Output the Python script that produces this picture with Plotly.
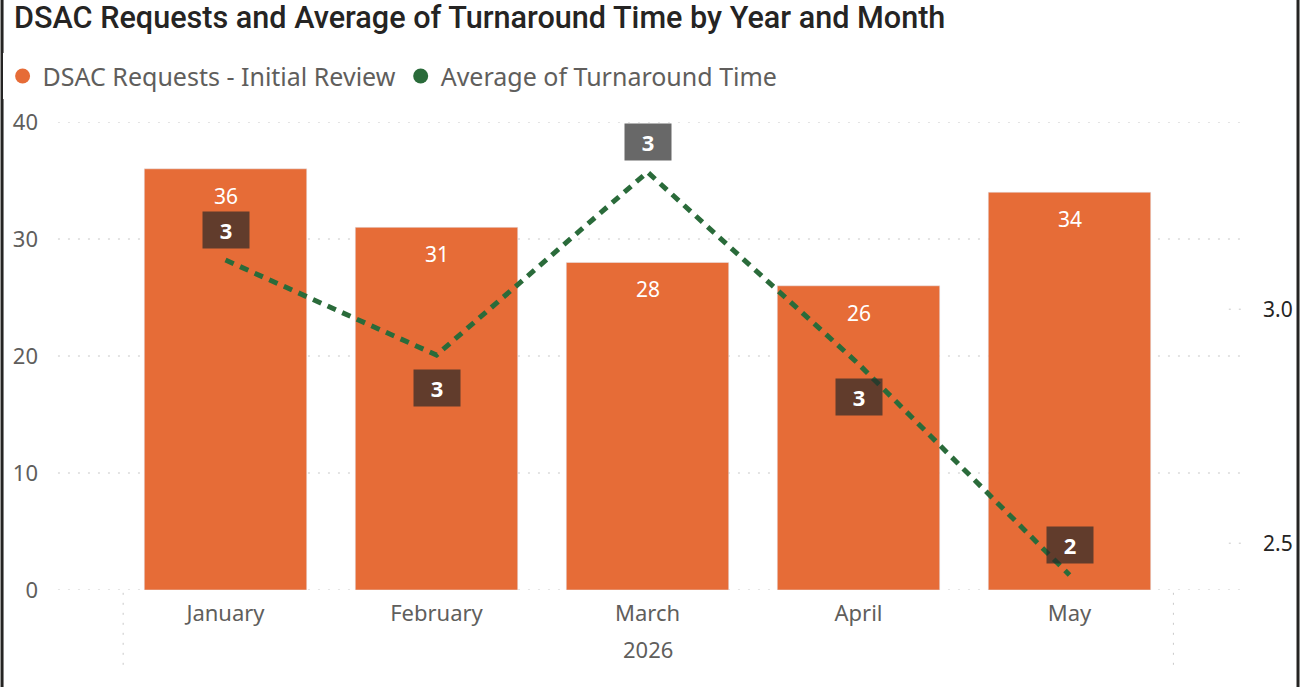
import plotly.graph_objects as go

# data
months = ["January", "February", "March", "April", "May"]
year_label = "2026"
requests = [36, 31, 28, 26, 34]
turnaround = [3.105, 2.902, 3.293, 2.883, 2.432]
label_pos = ["above", "below", "above", "below", "above"]
left_ticks = [0, 10, 20, 30, 40]
right_ticks = [2.5, 3.0]

orange = "#E66C37"
green = "#2A6B3A"
grey_txt = "#605E5C"
font = "Segoe UI, Noto Sans, sans-serif"

fig = go.Figure()
fig.add_trace(go.Bar(x=months, y=requests, marker_color=orange, width=0.77,
                     showlegend=False, hoverinfo="skip"))
fig.add_trace(go.Scatter(x=months, y=turnaround, yaxis="y2", mode="lines",
                         line=dict(color=green, width=5, dash="9px,7px"),
                         showlegend=False, hoverinfo="skip"))
# legend entries (circles like power bi)
fig.add_trace(go.Scatter(x=[None], y=[None], mode="markers", name="DSAC Requests - Initial Review",
                         marker=dict(color=orange, size=15)))
fig.add_trace(go.Scatter(x=[None], y=[None], mode="markers", name="Average of Turnaround Time",
                         marker=dict(color=green, size=15)))

ann = []
for m, v in zip(months, requests):
    ann.append(dict(x=m, y=v, xref="x", yref="y", text=str(v), showarrow=False,
                    yshift=-27, font=dict(color="white", size=21, family=font)))
for m, v, p in zip(months, turnaround, label_pos):
    ann.append(dict(x=m, y=v, xref="x", yref="y2", text="<b>%d</b>" % round(v),
                    showarrow=False, yshift=30 if p == "above" else -33,
                    bgcolor="rgba(40,40,40,0.7)", borderpad=5, width=36, height=26,
                    font=dict(color="white", size=22, family=font)))
ann.append(dict(x=0.5, y=-0.125, xref="paper", yref="paper", text=year_label, showarrow=False,
                yanchor="middle", font=dict(color=grey_txt, size=22, family=font)))

shapes = []
for t in left_ticks:
    shapes.append(dict(type="line", xref="paper", yref="y", x0=-0.0588, x1=1.0616, y0=t, y1=t,
                       line=dict(color="#C8C8C8", width=1, dash="2px,8px"), layer="below"))
for t in right_ticks:
    shapes.append(dict(type="line", xref="paper", yref="y2", x0=1.051, x1=1.063, y0=t, y1=t,
                       line=dict(color="#C8C8C8", width=1, dash="2px,8px"), layer="below"))
for xv in [0.003, 0.9985]:
    shapes.append(dict(type="line", xref="paper", yref="paper", x0=xv, x1=xv, y0=-0.006, y1=-0.167,
                       line=dict(color="#C8C8C8", width=1, dash="2px,8px")))
# frame edges
for xv in [-0.1118, 1.1166]:
    shapes.append(dict(type="line", xref="paper", yref="paper", x0=xv, x1=xv, y0=-0.21, y1=1.27,
                       line=dict(color="#252423", width=3)))

fig.update_layout(
    width=1301, height=687,
    margin=dict(l=120, r=126, t=122, b=97, autoexpand=False),
    paper_bgcolor="white", plot_bgcolor="white",
    title=dict(text="DSAC Requests and Average of Turnaround Time by Year and Month",
               x=0.0108, xanchor="left", y=0.975, yanchor="middle",
               font=dict(family="Roboto", size=30.6, color="#252423", weight=500)),
    legend=dict(orientation="h", xref="container", yref="container", x=0.002, y=0.889,
                xanchor="left", yanchor="middle", itemwidth=30,
                font=dict(family=font, size=25, color=grey_txt), tracegroupgap=0),
    xaxis=dict(showgrid=False, zeroline=False, showline=False, ticks="",
               tickfont=dict(family=font, size=22, color=grey_txt), ticklabelstandoff=8),
    yaxis=dict(range=[0, 40], tickvals=left_ticks, showgrid=False, zeroline=False,
               tickfont=dict(family=font, size=22, color=grey_txt), ticklabelstandoff=81),
    yaxis2=dict(range=[2.4, 3.4], tickvals=right_ticks, ticktext=["2.5", "3.0"],
                overlaying="y", side="right", showgrid=False, zeroline=False,
                tickfont=dict(family=font, size=21, color="#252423"), ticklabelstandoff=87),
    annotations=ann, shapes=shapes, bargap=0.23,
)

fig.write_html("out.html", config={"displayModeBar": False},
               post_script="document.documentElement.style.overflow='hidden';"
                           "document.body.style.margin='0px';document.body.style.overflow='hidden';")
